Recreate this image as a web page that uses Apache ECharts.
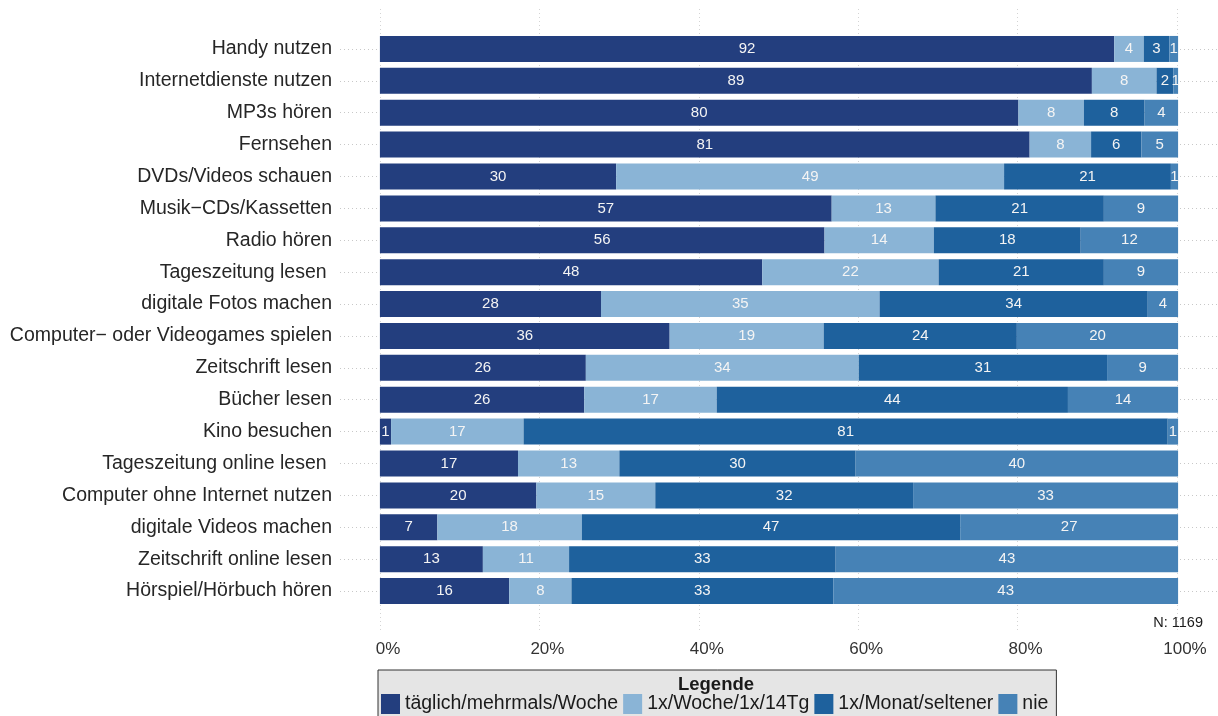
<!DOCTYPE html>
<html>
<head>
<meta charset="utf-8">
<script src="https://cdn.jsdelivr.net/npm/echarts@6/dist/echarts.min.js"></script>
<style>
html,body{margin:0;padding:0;background:#fff;}
#chart{width:1218px;height:716px;}
</style>
</head>
<body>
<div id="chart"></div>
<script>
const categories = [
  'Handy nutzen','Internetdienste nutzen','MP3s hören','Fernsehen','DVDs/Videos schauen',
  'Musik\u2212CDs/Kassetten','Radio hören','Tageszeitung lesen ','digitale Fotos machen',
  'Computer\u2212 oder Videogames spielen','Zeitschrift lesen','Bücher lesen','Kino besuchen',
  'Tageszeitung online lesen ','Computer ohne Internet nutzen','digitale Videos machen',
  'Zeitschrift online lesen','Hörspiel/Hörbuch hören'
];
const seriesNames = ['täglich/mehrmals/Woche','1x/Woche/1x/14Tg','1x/Monat/seltener','nie'];
const daily   = [92.0, 89.2, 80.0, 81.4, 29.6, 56.6, 55.7, 47.9, 27.7, 36.3, 25.8, 25.6, 1.4, 17.3, 19.6, 7.2, 12.9, 16.2];
const weekly  = [3.7, 8.1, 8.2, 7.7, 48.6, 13.0, 13.7, 22.1, 34.9, 19.3, 34.2, 16.6, 16.6, 12.7, 14.9, 18.1, 10.8, 7.8];
const monthly = [3.2, 2.1, 7.6, 6.3, 20.9, 21.1, 18.4, 20.7, 33.6, 24.2, 31.1, 44.0, 80.7, 29.6, 32.3, 47.4, 33.4, 32.8];
const never   = [1.1, 0.6, 4.2, 4.6, 0.9, 9.3, 12.2, 9.3, 3.8, 20.2, 8.9, 13.8, 1.3, 40.4, 33.2, 27.3, 42.9, 43.2];
const xTicks = [0, 20, 40, 60, 80, 100];
const noteText = 'N: 1169';
const legendTitle = 'Legende';

const colors = ['#233E7E', '#8AB4D6', '#1E619D', '#4682B6'];
const FONT = '"Liberation Sans", Arial, Helvetica, sans-serif';
const dataSets = [daily, weekly, monthly, never];

const chart = echarts.init(document.getElementById('chart'), null, {renderer: 'canvas'});

const barSeries = dataSets.map((d, i) => ({
  name: seriesNames[i],
  type: 'bar',
  stack: 'total',
  xAxisIndex: 1,
  yAxisIndex: 1,
  barWidth: 26,
  z: 3,
  data: d,
  itemStyle: {color: colors[i]},
  label: {
    show: true,
    position: 'inside',
    color: '#f4f4f4',
    fontFamily: FONT,
    fontSize: 15,
    formatter: p => Math.round(p.value)
  },
  emphasis: {disabled: true},
  animation: false
}));

barSeries[0].markLine = {
  silent: true,
  z: 1,
  symbol: ['none', 'none'],
  label: {show: false},
  lineStyle: {color: '#c8c8c8', type: [1, 3], width: 1},
  data: categories.map(c => ({yAxis: c})),
  animation: false
};

chart.setOption({
  backgroundColor: '#ffffff',
  animation: false,
  color: colors,
  textStyle: {fontFamily: FONT},
  title: [{
    text: legendTitle,
    left: 716,
    top: 675,
    textAlign: 'center',
    padding: 0,
    z: 10,
    textStyle: {fontFamily: FONT, fontSize: 18.5, fontWeight: 'bold', color: '#1a1a1a'}
  }, {
    text: noteText,
    right: 15,
    top: 615,
    padding: 0,
    textStyle: {fontFamily: FONT, fontSize: 14.5, fontWeight: 'normal', color: '#1a1a1a'}
  }],
  legend: {
    data: seriesNames,
    left: 378,
    top: 670,
    orient: 'horizontal',
    padding: [24, 8, 4, 3],
    itemGap: 5,
    itemWidth: 19,
    itemHeight: 20,
    icon: 'rect',
    backgroundColor: '#e5e5e5',
    borderColor: '#333333',
    borderWidth: 1,
    borderRadius: 0,
    selectedMode: false,
    textStyle: {fontFamily: FONT, fontSize: 19.5, color: '#1a1a1a'}
  },
  grid: [
    {left: 380, right: 41, top: 9, bottom: 83, containLabel: false},
    {left: 340, right: 0, top: 33, bottom: 109, containLabel: false}
  ],
  xAxis: [{
    gridIndex: 0,
    type: 'value',
    min: 0,
    max: 100,
    interval: 20,
    axisLine: {show: false},
    axisTick: {show: false},
    splitLine: {show: true, lineStyle: {color: '#d4d4d4', type: [1, 3], width: 1}},
    axisLabel: {
      show: true,
      margin: 8,
      fontFamily: FONT,
      fontSize: 17,
      color: '#333333',
      padding: [0, 0, 0, 16],
      formatter: v => (xTicks.indexOf(v) >= 0 ? v + '%' : '')
    }
  }, {
    gridIndex: 1,
    type: 'value',
    min: -5,
    max: 105,
    show: false
  }],
  yAxis: [{
    gridIndex: 0,
    type: 'value',
    show: false
  }, {
    gridIndex: 1,
    type: 'category',
    data: categories,
    inverse: true,
    axisLine: {show: false},
    axisTick: {show: false},
    splitLine: {show: false},
    axisLabel: {
      show: true,
      margin: 8,
      fontFamily: FONT,
      fontSize: 19.5,
      color: '#262626'
    }
  }],
  series: barSeries
});
</script>
</body>
</html>
